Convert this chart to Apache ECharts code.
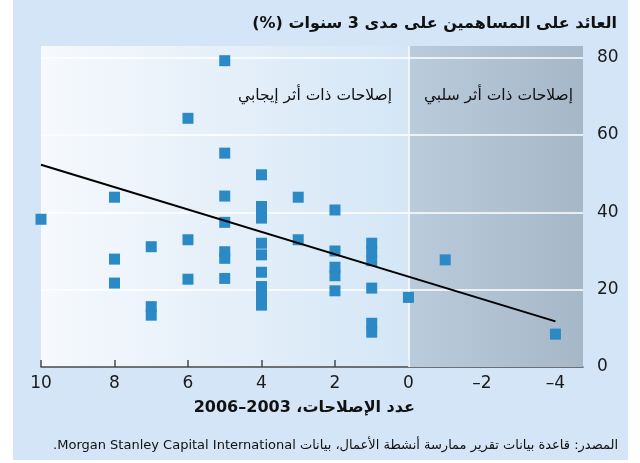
<!DOCTYPE html>
<html><head><meta charset="utf-8">
<script src="https://cdn.jsdelivr.net/npm/echarts@6/dist/echarts.min.js"></script>
<style>
html,body{margin:0;padding:0;background:#fff}
#wrap{position:relative;width:640px;height:463px}
#panel{position:absolute;left:13px;top:0;width:615px;height:460px;background:#d3e5f7}
#chart{position:absolute;left:0;top:0;width:640px;height:463px}
</style></head><body>
<div id="wrap"><div id="panel"></div><div id="chart"></div></div>
<script>
// ---- data ----
const xTickValues = [10, 8, 6, 4, 2, 0, -2, -4];
const yTickValues = [0, 20, 40, 60, 80];
const reformCounts = [
  10,
  8, 8, 8,
  7, 7, 7,
  6, 6, 6,
  5, 5, 5, 5, 5, 5, 5,
  4, 4, 4, 4, 4, 4, 4, 4, 4, 4,
  3, 3,
  2, 2, 2, 2, 2,
  1, 1, 1, 1, 1, 1,
  0,
  -1,
  -4
];
const shareholderReturns = [
  38.2,
  43.9, 27.9, 21.7,
  31.1, 15.6, 13.4,
  64.3, 32.9, 22.7,
  79.2, 55.3, 44.2, 37.4, 29.8, 28.1, 22.9,
  49.7, 41.5, 40.0, 38.5, 32.0, 29.0, 24.5, 20.8, 18.4, 16.0,
  43.9, 32.9,
  40.6, 30.0, 25.8, 23.6, 19.7,
  32.0, 29.8, 27.5, 20.4, 11.3, 9.0,
  18.0,
  27.7,
  8.5
];
const trendReforms = [10, -4];
const trendReturns = [52.3, 11.8];

const titleText = 'العائد على المساهمين على مدى 3 سنوات (%)';
const positiveLabel = 'إصلاحات ذات أثر إيجابي';
const negativeLabel = 'إصلاحات ذات أثر سلبي';
const xTitleText = 'عدد الإصلاحات، 2003–2006';
const sourceText = 'المصدر: قاعدة بيانات تقرير ممارسة أنشطة الأعمال، بيانات Morgan Stanley Capital International.';

// ---- chart ----
const RLE = '\u202B', PDF = '\u202C';
const rtl = s => RLE + s + PDF;
const FONT = "'Liberation Sans Narrow','DejaVu Sans',sans-serif";

const scatterData = reformCounts.map((x, i) => [x, shareholderReturns[i]]);
const trendData = trendReforms.map((x, i) => [x, trendReturns[i]]);

const chart = echarts.init(document.getElementById('chart'), null, {renderer: 'canvas'});
chart.setOption({
  animation: false,
  backgroundColor: 'transparent',
  grid: {
    left: 41, right: 57, top: 46, bottom: 96,
    show: true, borderWidth: 0,
    backgroundColor: new echarts.graphic.LinearGradient(0, 0, 1, 0, [
      {offset: 0, color: '#f6f9fd'},
      {offset: 0.68, color: '#d4e6f6'},
      {offset: 1, color: '#cfe2f4'}
    ])
  },
  xAxis: {
    type: 'value', inverse: true, min: -4.75, max: 10,
    splitLine: {show: false},
    axisLine: {show: true, onZero: false, lineStyle: {color: '#4a4a4a', width: 1.5}},
    axisTick: {show: true, inside: true, length: 7, customValues: xTickValues,
      lineStyle: {color: '#4a4a4a', width: 1.5}},
    axisLabel: {customValues: xTickValues, margin: 8, fontSize: 17, fontFamily: FONT, color: '#1a1a1a',
      formatter: v => v < 0 ? '–' + Math.abs(v) : String(v)}
  },
  yAxis: {
    type: 'value', position: 'right', min: 0, max: 83,
    splitLine: {show: false},
    axisLine: {show: false}, axisTick: {show: false},
    axisLabel: {customValues: yTickValues, margin: 14, fontSize: 17, fontFamily: FONT, color: '#1a1a1a'}
  },
  series: [
    {
      type: 'line', data: [], z: 1, silent: true,
      markArea: {
        silent: true,
        itemStyle: {color: new echarts.graphic.LinearGradient(0, 0, 1, 0, [
          {offset: 0, color: '#bacbdb'}, {offset: 1, color: '#a6b7c7'}])},
        data: [[{xAxis: 0}, {xAxis: -4.75}]]
      },
      markLine: {
        silent: true, symbol: ['none', 'none'], label: {show: false},
        lineStyle: {color: '#ffffff', width: 1.5, type: 'solid'},
        data: yTickValues.filter(v => v > 0).map(v => ({yAxis: v})).concat([{xAxis: 0}])
      }
    },
    {
      type: 'scatter', z: 10, symbol: 'rect', symbolSize: 11,
      itemStyle: {color: '#2b89c5', opacity: 1},
      data: scatterData
    },
    {
      type: 'line', z: 12, symbol: 'none', data: trendData,
      lineStyle: {color: '#000', width: 2}
    }
  ],
  graphic: [
    {type: 'text', z: 100, x: 617, y: 24, style: {text: rtl(titleText), fill: '#111',
      font: "bold 16px " + FONT, textAlign: 'right', textVerticalAlign: 'middle'}},
    {type: 'text', z: 100, x: 392, y: 96, style: {text: rtl(positiveLabel), fill: '#111',
      font: "15.5px " + FONT, textAlign: 'right', textVerticalAlign: 'middle'}},
    {type: 'text', z: 100, x: 573, y: 96, style: {text: rtl(negativeLabel), fill: '#111',
      font: "15.5px " + FONT, textAlign: 'right', textVerticalAlign: 'middle'}},
    {type: 'text', z: 100, x: 415, y: 408, style: {text: rtl(xTitleText), fill: '#111',
      font: "bold 16px " + FONT, textAlign: 'right', textVerticalAlign: 'middle'}},
    {type: 'text', z: 100, x: 618, y: 446, style: {text: rtl(sourceText), fill: '#111',
      font: "13px " + FONT, textAlign: 'right', textVerticalAlign: 'middle'}}
  ]
});
</script>
</body></html>
